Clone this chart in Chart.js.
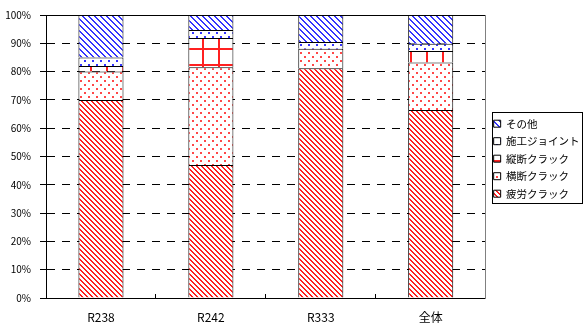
<!DOCTYPE html>
<html>
<head>
<meta charset="utf-8">
<script src="https://cdn.jsdelivr.net/npm/chart.js@4.4.0/dist/chart.umd.min.js"></script>
<style>
  html, body { margin: 0; padding: 0; background: #fff; }
  #wrap { width: 584px; height: 327px; }
</style>
</head>
<body>
<div id="wrap"><canvas id="crackChart" width="584" height="327"></canvas></div>
<script>
// ===== データ (%) =====
const categories = ["R238", "R242", "R333", "全体"];
const seriesNames = ["疲労クラック", "横断クラック", "縦断クラック", "施工ジョイント", "その他"];
const fatigue      = [70.0, 47.0, 81.2, 66.4];
const transverse   = [10.0, 34.5, 6.9, 16.8];
const longitudinal = [2.0, 10.4, 0, 4.1];
const joint        = [3.0, 2.8, 2.4, 2.5];
const others       = [15.0, 5.3, 9.5, 10.2];
const yTicks = [0, 10, 20, 30, 40, 50, 60, 70, 80, 90, 100];

Chart.defaults.font.family = '"Noto Sans CJK JP", "Noto Sans", sans-serif';
Chart.defaults.color = "#000";

// ハッチング用パターン (タイルをピクセル単位で作る)
function makePattern(size, color, test) {
    const c = document.createElement("canvas");
    c.width = size; c.height = size;
    const g = c.getContext("2d");
    g.fillStyle = "#fff";
    g.fillRect(0, 0, size, size);
    g.fillStyle = color;
    for (let y = 0; y < size; y++) {
        for (let x = 0; x < size; x++) {
            if (test(x, y)) g.fillRect(x, y, 1, 1);
        }
    }
    return g.createPattern(c, "repeat");
}

const RED = "#ff2020";
const BLUE = "#3434ff";
const dots = (x, y) => x % 4 < 2 && y % 4 < 2 && ((x >> 2) + (y >> 2)) % 2 === 0;

const fills = [
    makePattern(5, RED, (x, y) => (x - y + 10) % 5 < 2),          // 疲労: 右下がり斜線
    makePattern(8, "#ff4848", dots),                               // 横断: ドット
    makePattern(16, RED, (x, y) => (x + 6) % 16 < 2 || y % 16 < 2), // 縦断: 格子
    makePattern(8, BLUE, dots),                                    // 施工: 青ドット
    makePattern(6, BLUE, (x, y) => (x - y + 12) % 6 < 2)           // その他: 青斜線
];
const values = [fatigue, transverse, longitudinal, joint, others];

const datasets = seriesNames.map((name, i) => ({
    label: name,
    data: values[i],
    backgroundColor: fills[i],
    borderColor: "#000",
    borderWidth: 1,
    xAxisID: "x",
    yAxisID: "y",
    barPercentage: 0.41,
    categoryPercentage: 1.0
}));

// 凡例の枠線
const legendFrame = {
    id: "legendFrame",
    afterDraw(chart) {
        const hb = chart.legend.legendHitBoxes;
        if (!hb || !hb.length) return;
        const last = hb[hb.length - 1];
        const ctx = chart.ctx;
        ctx.save();
        ctx.strokeStyle = "#000";
        ctx.lineWidth = 1;
        const l = Math.round(hb[0].left - 2) + 0.5;
        const t = Math.round(hb[0].top - 6) + 0.5;
        const b = Math.round(last.top + last.height + 4) + 0.5;
        ctx.strokeRect(l, t, 582.5 - l, b - t);
        ctx.restore();
    }
};

new Chart(document.getElementById("crackChart"), {
    type: "bar",
    data: { labels: categories, datasets: datasets },
    options: {
        responsive: false,
        animation: false,
        layout: { padding: { top: 10, bottom: 0, left: 0, right: 0 } },
        scales: {
            x: {
                stacked: true,
                position: "bottom",
                grid: { drawOnChartArea: false, drawTicks: true, tickLength: -4, color: "#000", offset: true },
                border: { color: "#000", width: 1 },
                ticks: { padding: 16, font: { size: 12 } },
                afterFit: function (s) { s.height = 29; }
            },
            y: {
                stacked: true,
                min: 0,
                max: 100,
                afterBuildTicks: function (s) { s.ticks = yTicks.map(v => ({ value: v })); },
                grid: {
                    color: function (c) {
                        const v = c.tick ? c.tick.value : 0;
                        return (v === 0 || v === 100) ? "rgba(0,0,0,0)" : "#000";
                    },
                    tickColor: "#000",
                    tickLength: 6
                },
                border: { color: "#000", width: 1, dash: [8, 7] },
                ticks: {
                    padding: 9,
                    font: { size: 10 },
                    callback: function (v) { return v + "%"; }
                },
                afterFit: function (s) { s.width = 46; }
            },
            xt: {
                type: "category",
                labels: categories,
                position: "top",
                grid: { display: false },
                ticks: { display: false },
                border: { color: "#000", width: 1 },
                afterFit: function (s) { s.height = 0; }
            },
            yr: {
                type: "linear",
                position: "right",
                min: 0,
                max: 100,
                grid: { display: false },
                ticks: { display: false },
                border: { color: "#808080", width: 1 },
                afterFit: function (s) { s.width = 1; }
            }
        },
        plugins: {
            legend: {
                display: true,
                position: "right",
                fullSize: false,
                reverse: true,
                title: { display: true, text: " ", font: { size: 2 }, padding: 1 },
                labels: {
                    boxWidth: 7,
                    boxHeight: 7,
                    padding: 7,
                    font: { size: 10.5 }
                }
            },
            tooltip: { enabled: false }
        }
    },
    plugins: [legendFrame]
});
</script>
</body>
</html>
